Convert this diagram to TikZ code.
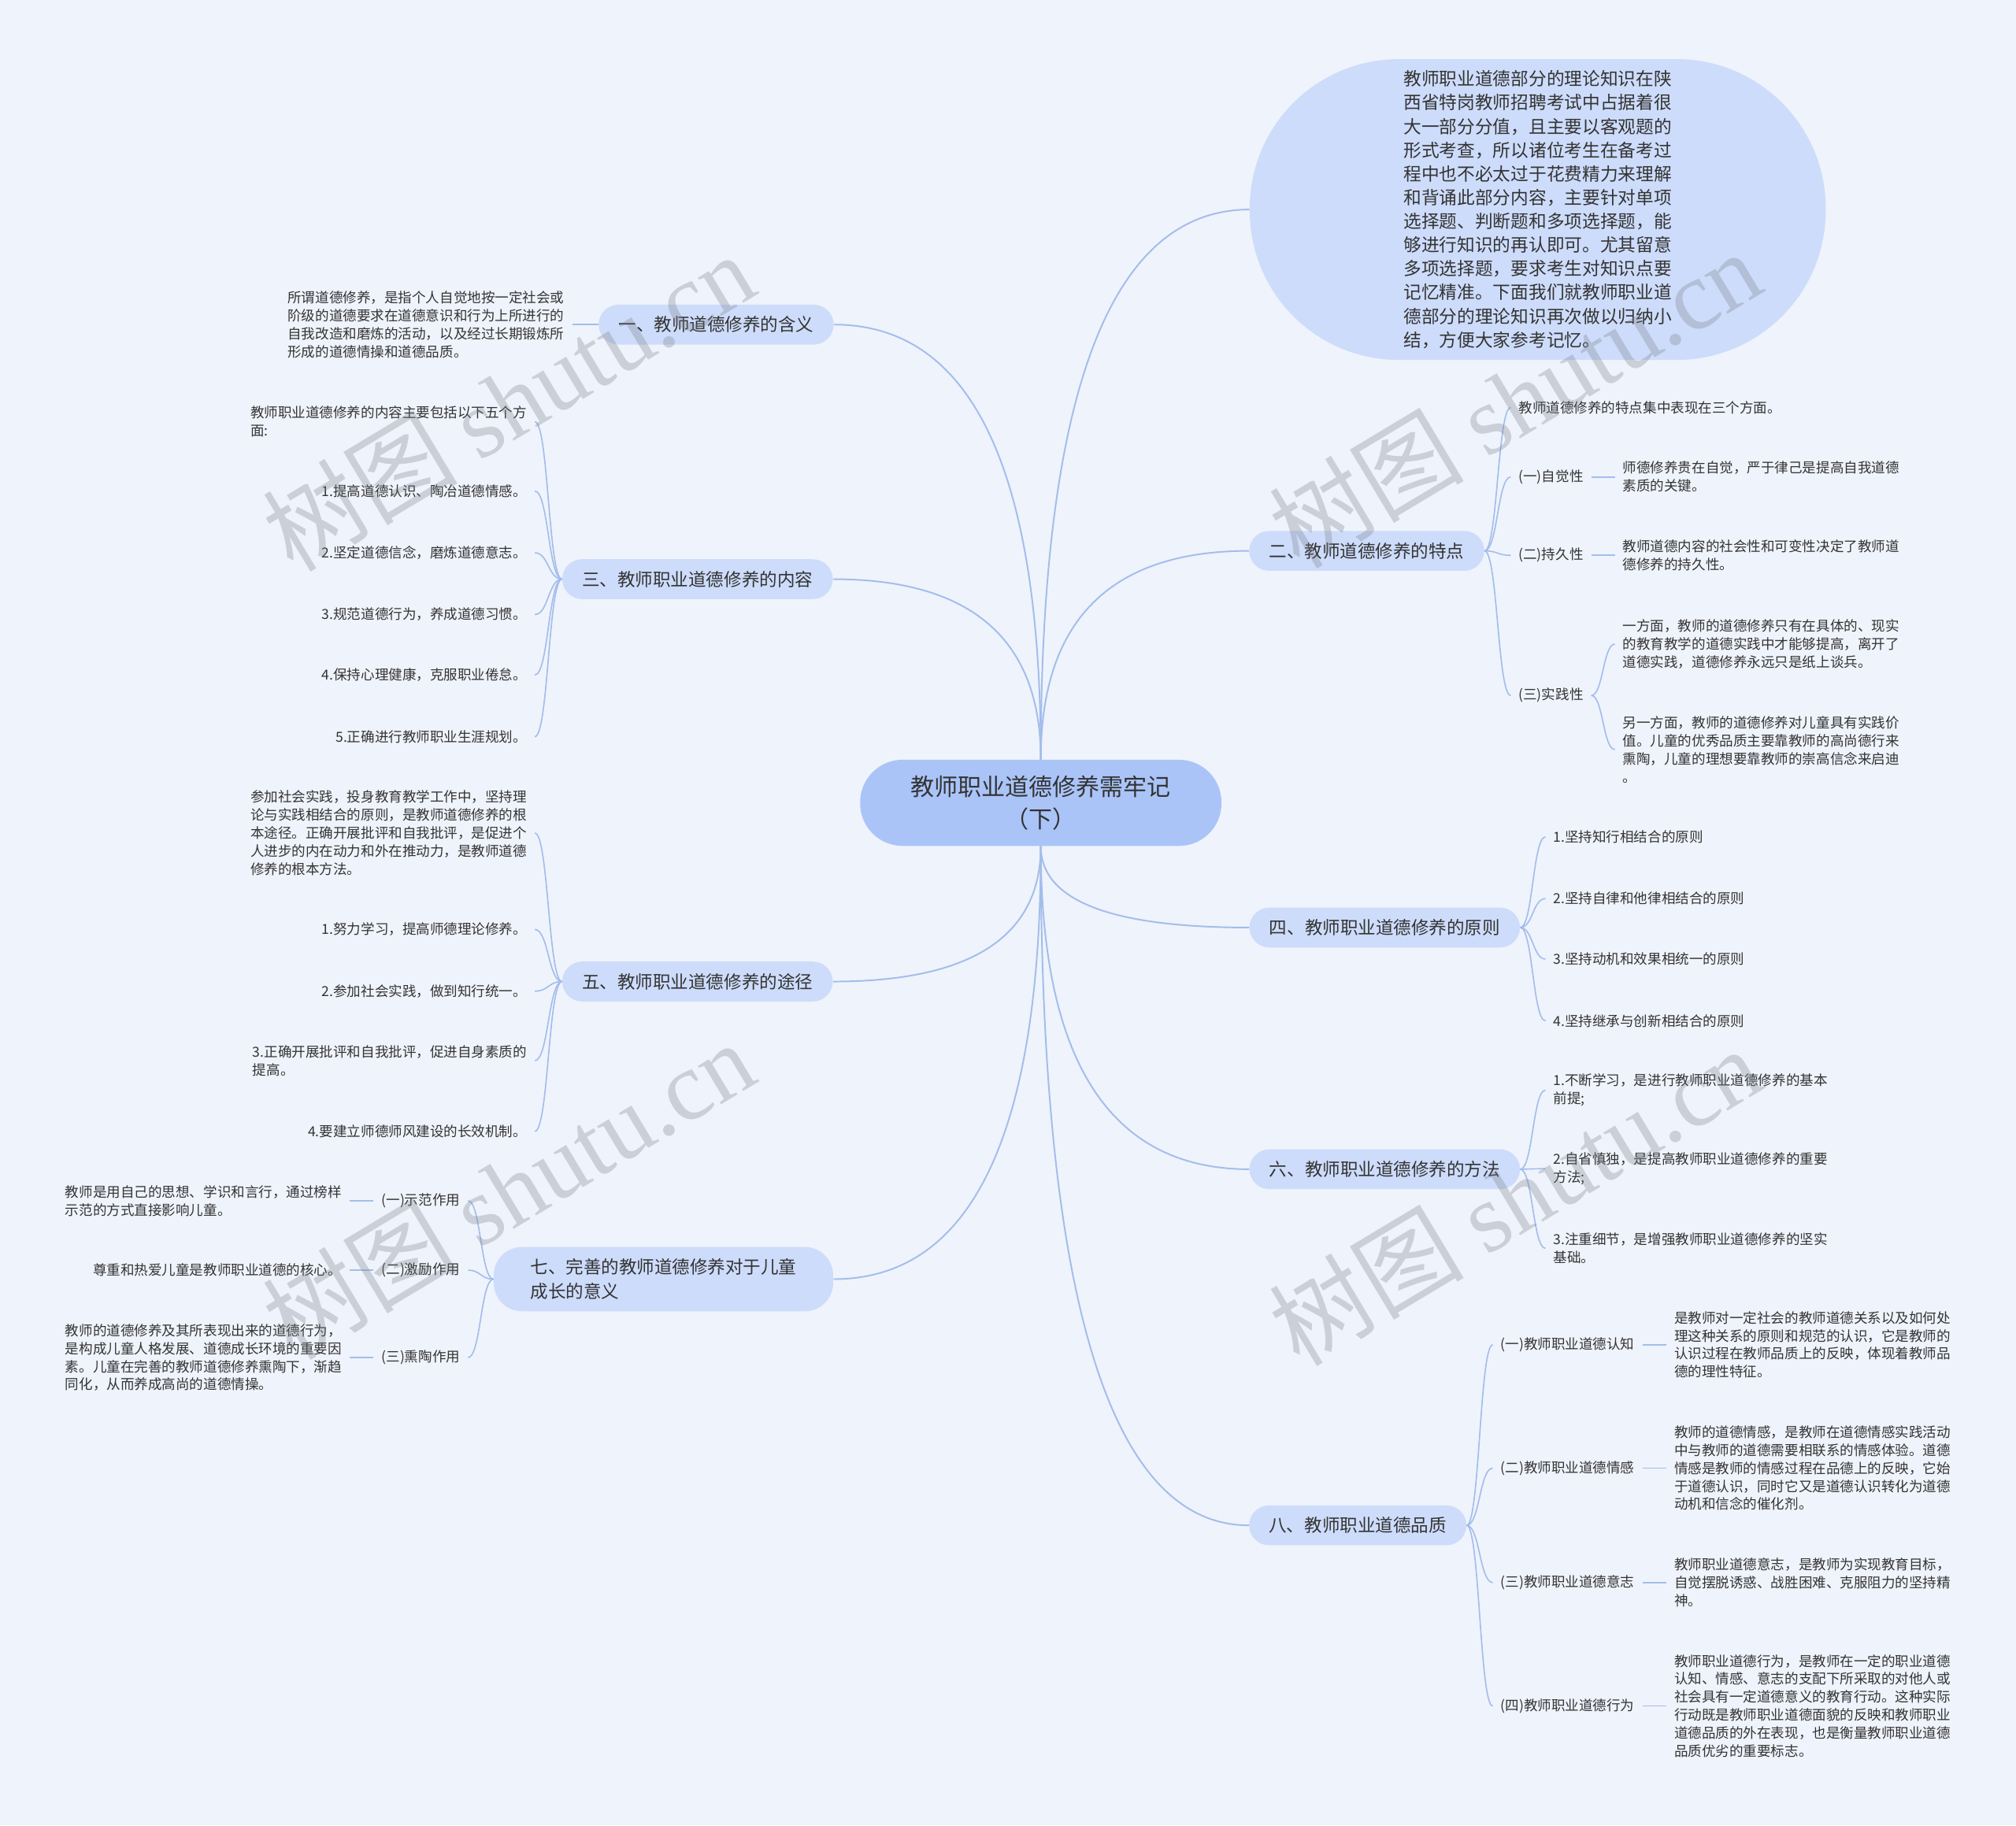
\documentclass[tikz,border=0pt]{standalone}
\usepackage{fontspec}
\setmainfont{Noto Sans CJK SC}
\newfontfamily\wmfont{Liberation Serif}
\usetikzlibrary{calc}

\definecolor{bgc}{RGB}{239,243,251}
\definecolor{rootc}{RGB}{170,196,248}
\definecolor{mainc}{RGB}{205,220,250}
\definecolor{linec}{RGB}{163,189,236}
\definecolor{txt}{RGB}{51,51,51}
\definecolor{wmc}{RGB}{120,125,135}

\tikzset{
  root/.style={fill=rootc,text=txt,rounded corners=33pt,minimum width=281pt,minimum height=67pt,
    align=center,font=\fontsize{18.4}{25}\selectfont},
  topic/.style={fill=mainc,text=txt,rounded corners=15.5pt,minimum height=31pt,inner xsep=15.5pt,
    font=\fontsize{13.8}{18.5}\selectfont},
  bubble/.style={fill=mainc,text=txt,rounded corners=116pt,minimum width=448pt,minimum height=234pt,
    align=left,font=\fontsize{13.9}{18.45}\selectfont},
  leaf/.style={text=txt,inner xsep=6pt,inner ysep=2pt,align=left,font=\fontsize{10.75}{14}\selectfont},
  trunk/.style={draw=linec,line width=1.2pt,
    to path={let \p1=(\tikztostart), \p2=(\tikztotarget) in
      .. controls (\x1,{\y1+2/3*(\y2-(\y1))}) and ({\x2+2/3*(\x1-(\x2))},\y2) .. (\tikztotarget)}},
  twig/.style={draw=linec,line width=1pt,
    to path={let \p1=(\tikztostart), \p2=(\tikztotarget) in
      .. controls ({(\x1+\x2)/2},\y1) and ({(\x1+\x2)/2},\y2) .. (\tikztotarget)}},
  wmark/.style={text=wmc,text opacity=0.3,font=\fontsize{76}{80}\selectfont,rotate=31}
}

\begin{document}
\begin{tikzpicture}[x=1pt,y=-1pt]
  \fill[bgc] (0,0) rectangle (1568,1420);
  \useasboundingbox (0,0) rectangle (1568,1420);

  % centre
  \node[root] (root) at (809.5,624.5) {教师职业道德修养需牢记\\（下）};

  % left branches
  \node[topic] (n1) at (557,252.5) {一、教师道德修养的含义};
  \node[topic] (n3) at (542.5,450.5) {三、教师职业道德修养的内容};
  \node[topic] (n5) at (542.5,763.5) {五、教师职业道德修养的途径};
  \node[topic,rounded corners=22pt,minimum height=50pt,minimum width=264pt,inner xsep=25pt,align=left] (n7) at (516,995)
    {七、完善的教师道德修养对于儿童\\成长的意义};

  % right branches
  \node[bubble] (intro) at (1196,163) {教师职业道德部分的理论知识在陕\\西省特岗教师招聘考试中占据着很\\大一部分分值，且主要以客观题的\\形式考查，所以诸位考生在备考过\\程中也不必太过于花费精力来理解\\和背诵此部分内容，主要针对单项\\选择题、判断题和多项选择题，能\\够进行知识的再认即可。尤其留意\\多项选择题，要求考生对知识点要\\记忆精准。下面我们就教师职业道\\德部分的理论知识再次做以归纳小\\结，方便大家参考记忆。};
  \node[topic] (n2) at (1063,428.5) {二、教师道德修养的特点};
  \node[topic] (n4) at (1077,721.5) {四、教师职业道德修养的原则};
  \node[topic] (n6) at (1077,909.5) {六、教师职业道德修养的方法};
  \node[topic] (n8) at (1056,1186.5) {八、教师职业道德品质};

  % leaves of n1
  \node[leaf,anchor=east] (c1) at (445,252.5) {所谓道德修养，是指个人自觉地按一定社会或\\阶级的道德要求在道德意识和行为上所进行的\\自我改造和磨炼的活动，以及经过长期锻炼所\\形成的道德情操和道德品质。};

  % leaves of n3
  \node[leaf,anchor=east] (c3a) at (416,328) {教师职业道德修养的内容主要包括以下五个方\\面:};
  \node[leaf,anchor=east] (c3b) at (416,382) {1.提高道德认识、陶冶道德情感。};
  \node[leaf,anchor=east] (c3c) at (416,430) {2.坚定道德信念，磨炼道德意志。};
  \node[leaf,anchor=east] (c3d) at (416,478) {3.规范道德行为，养成道德习惯。};
  \node[leaf,anchor=east] (c3e) at (416,525) {4.保持心理健康，克服职业倦怠。};
  \node[leaf,anchor=east] (c3f) at (416,573) {5.正确进行教师职业生涯规划。};

  % leaves of n5
  \node[leaf,anchor=east] (c5a) at (416,648) {参加社会实践，投身教育教学工作中，坚持理\\论与实践相结合的原则，是教师道德修养的根\\本途径。正确开展批评和自我批评，是促进个\\人进步的内在动力和外在推动力，是教师道德\\修养的根本方法。};
  \node[leaf,anchor=east] (c5b) at (416,723) {1.努力学习，提高师德理论修养。};
  \node[leaf,anchor=east] (c5c) at (416,771) {2.参加社会实践，做到知行统一。};
  \node[leaf,anchor=east] (c5d) at (416,825) {3.正确开展批评和自我批评，促进自身素质的\\提高。};
  \node[leaf,anchor=east] (c5e) at (416,880) {4.要建立师德师风建设的长效机制。};

  % leaves of n7
  \node[leaf,anchor=east] (l7a) at (364,934) {(一)示范作用};
  \node[leaf,anchor=east] (l7b) at (364,988) {(二)激励作用};
  \node[leaf,anchor=east] (l7c) at (364,1056) {(三)熏陶作用};
  \node[leaf,anchor=east] (d7a) at (272,934) {教师是用自己的思想、学识和言行，通过榜样\\示范的方式直接影响儿童。};
  \node[leaf,anchor=east] (d7b) at (272,988) {尊重和热爱儿童是教师职业道德的核心。};
  \node[leaf,anchor=east] (d7c) at (272,1056) {教师的道德修养及其所表现出来的道德行为，\\是构成儿童人格发展、道德成长环境的重要因\\素。儿童在完善的教师道德修养熏陶下，渐趋\\同化，从而养成高尚的道德情操。};

  % leaves of n2
  \node[leaf,anchor=west] (c2a) at (1175,317) {教师道德修养的特点集中表现在三个方面。};
  \node[leaf,anchor=west] (c2b) at (1175,371) {(一)自觉性};
  \node[leaf,anchor=west] (c2c) at (1175,432) {(二)持久性};
  \node[leaf,anchor=west] (c2d) at (1175,541) {(三)实践性};
  \node[leaf,anchor=west] (d2b) at (1256,371) {师德修养贵在自觉，严于律己是提高自我道德\\素质的关键。};
  \node[leaf,anchor=west] (d2c) at (1256,432) {教师道德内容的社会性和可变性决定了教师道\\德修养的持久性。};
  \node[leaf,anchor=west] (d2e) at (1256,501) {一方面，教师的道德修养只有在具体的、现实\\的教育教学的道德实践中才能够提高，离开了\\道德实践，道德修养永远只是纸上谈兵。};
  \node[leaf,anchor=west] (d2f) at (1256,583) {另一方面，教师的道德修养对儿童具有实践价\\值。儿童的优秀品质主要靠教师的高尚德行来\\熏陶，儿童的理想要靠教师的崇高信念来启迪\\。};

  % leaves of n4
  \node[leaf,anchor=west] (c4a) at (1202,651) {1.坚持知行相结合的原则};
  \node[leaf,anchor=west] (c4b) at (1202,699) {2.坚持自律和他律相结合的原则};
  \node[leaf,anchor=west] (c4c) at (1202,746) {3.坚持动机和效果相统一的原则};
  \node[leaf,anchor=west] (c4d) at (1202,794) {4.坚持继承与创新相结合的原则};

  % leaves of n6
  \node[leaf,anchor=west] (c6a) at (1202,848) {1.不断学习，是进行教师职业道德修养的基本\\前提;};
  \node[leaf,anchor=west] (c6b) at (1202,909) {2.自省慎独，是提高教师职业道德修养的重要\\方法;};
  \node[leaf,anchor=west] (c6c) at (1202,971) {3.注重细节，是增强教师职业道德修养的坚实\\基础。};

  % leaves of n8
  \node[leaf,anchor=west] (l8a) at (1161,1046) {(一)教师职业道德认知};
  \node[leaf,anchor=west] (l8b) at (1161,1142) {(二)教师职业道德情感};
  \node[leaf,anchor=west] (l8c) at (1161,1231) {(三)教师职业道德意志};
  \node[leaf,anchor=west] (l8d) at (1161,1327) {(四)教师职业道德行为};
  \node[leaf,anchor=west] (d8a) at (1296,1046) {是教师对一定社会的教师道德关系以及如何处\\理这种关系的原则和规范的认识，它是教师的\\认识过程在教师品质上的反映，体现着教师品\\德的理性特征。};
  \node[leaf,anchor=west] (d8b) at (1296,1142) {教师的道德情感，是教师在道德情感实践活动\\中与教师的道德需要相联系的情感体验。道德\\情感是教师的情感过程在品德上的反映，它始\\于道德认识，同时它又是道德认识转化为道德\\动机和信念的催化剂。};
  \node[leaf,anchor=west] (d8c) at (1296,1231) {教师职业道德意志，是教师为实现教育目标，\\自觉摆脱诱惑、战胜困难、克服阻力的坚持精\\神。};
  \node[leaf,anchor=west] (d8d) at (1296,1327) {教师职业道德行为，是教师在一定的职业道德\\认知、情感、意志的支配下所采取的对他人或\\社会具有一定道德意义的教育行动。这种实际\\行动既是教师职业道德面貌的反映和教师职业\\道德品质的外在表现，也是衡量教师职业道德\\品质优劣的重要标志。};

  % centre to branches
  \draw[trunk] (root.north) to (n1.east);
  \draw[trunk] (root.north) to (n3.east);
  \draw[trunk] (root.north) to (intro.west);
  \draw[trunk] (root.north) to (n2.west);
  \draw[trunk] (root.south) to (n5.east);
  \draw[trunk] (root.south) to (n7.east);
  \draw[trunk] (root.south) to (n4.west);
  \draw[trunk] (root.south) to (n6.west);
  \draw[trunk] (root.south) to (n8.west);

  % branches to leaves
  \draw[twig] (n1.west) to (c1.east);
  \draw[twig] (n3.west) to (c3a.east);
  \draw[twig] (n3.west) to (c3b.east);
  \draw[twig] (n3.west) to (c3c.east);
  \draw[twig] (n3.west) to (c3d.east);
  \draw[twig] (n3.west) to (c3e.east);
  \draw[twig] (n3.west) to (c3f.east);
  \draw[twig] (n5.west) to (c5a.east);
  \draw[twig] (n5.west) to (c5b.east);
  \draw[twig] (n5.west) to (c5c.east);
  \draw[twig] (n5.west) to (c5d.east);
  \draw[twig] (n5.west) to (c5e.east);
  \draw[twig] (n7.west) to (l7a.east);
  \draw[twig] (n7.west) to (l7b.east);
  \draw[twig] (n7.west) to (l7c.east);
  \draw[twig] (l7a.west) to (d7a.east);
  \draw[twig] (l7b.west) to (d7b.east);
  \draw[twig] (l7c.west) to (d7c.east);
  \draw[twig] (n2.east) to (c2a.west);
  \draw[twig] (n2.east) to (c2b.west);
  \draw[twig] (n2.east) to (c2c.west);
  \draw[twig] (n2.east) to (c2d.west);
  \draw[twig] (c2b.east) to (d2b.west);
  \draw[twig] (c2c.east) to (d2c.west);
  \draw[twig] (c2d.east) to (d2e.west);
  \draw[twig] (c2d.east) to (d2f.west);
  \draw[twig] (n4.east) to (c4a.west);
  \draw[twig] (n4.east) to (c4b.west);
  \draw[twig] (n4.east) to (c4c.west);
  \draw[twig] (n4.east) to (c4d.west);
  \draw[twig] (n6.east) to (c6a.west);
  \draw[twig] (n6.east) to (c6b.west);
  \draw[twig] (n6.east) to (c6c.west);
  \draw[twig] (n8.east) to (l8a.west);
  \draw[twig] (n8.east) to (l8b.west);
  \draw[twig] (n8.east) to (l8c.west);
  \draw[twig] (n8.east) to (l8d.west);
  \draw[twig] (l8a.east) to (d8a.west);
  \draw[twig] (l8b.east) to (d8b.west);
  \draw[twig] (l8c.east) to (d8c.west);
  \draw[twig] (l8d.east) to (d8d.west);

  % watermarks
  \node[wmark] (wm1) at (395,312) {树图 {\wmfont shutu.cn}};
  \node[wmark] (wm2) at (395,925) {树图 {\wmfont shutu.cn}};
  \node[wmark] (wm3) at (1178,310) {树图 {\wmfont shutu.cn}};
  \node[wmark] (wm4) at (1178,930) {树图 {\wmfont shutu.cn}};
\end{tikzpicture}
\end{document}
